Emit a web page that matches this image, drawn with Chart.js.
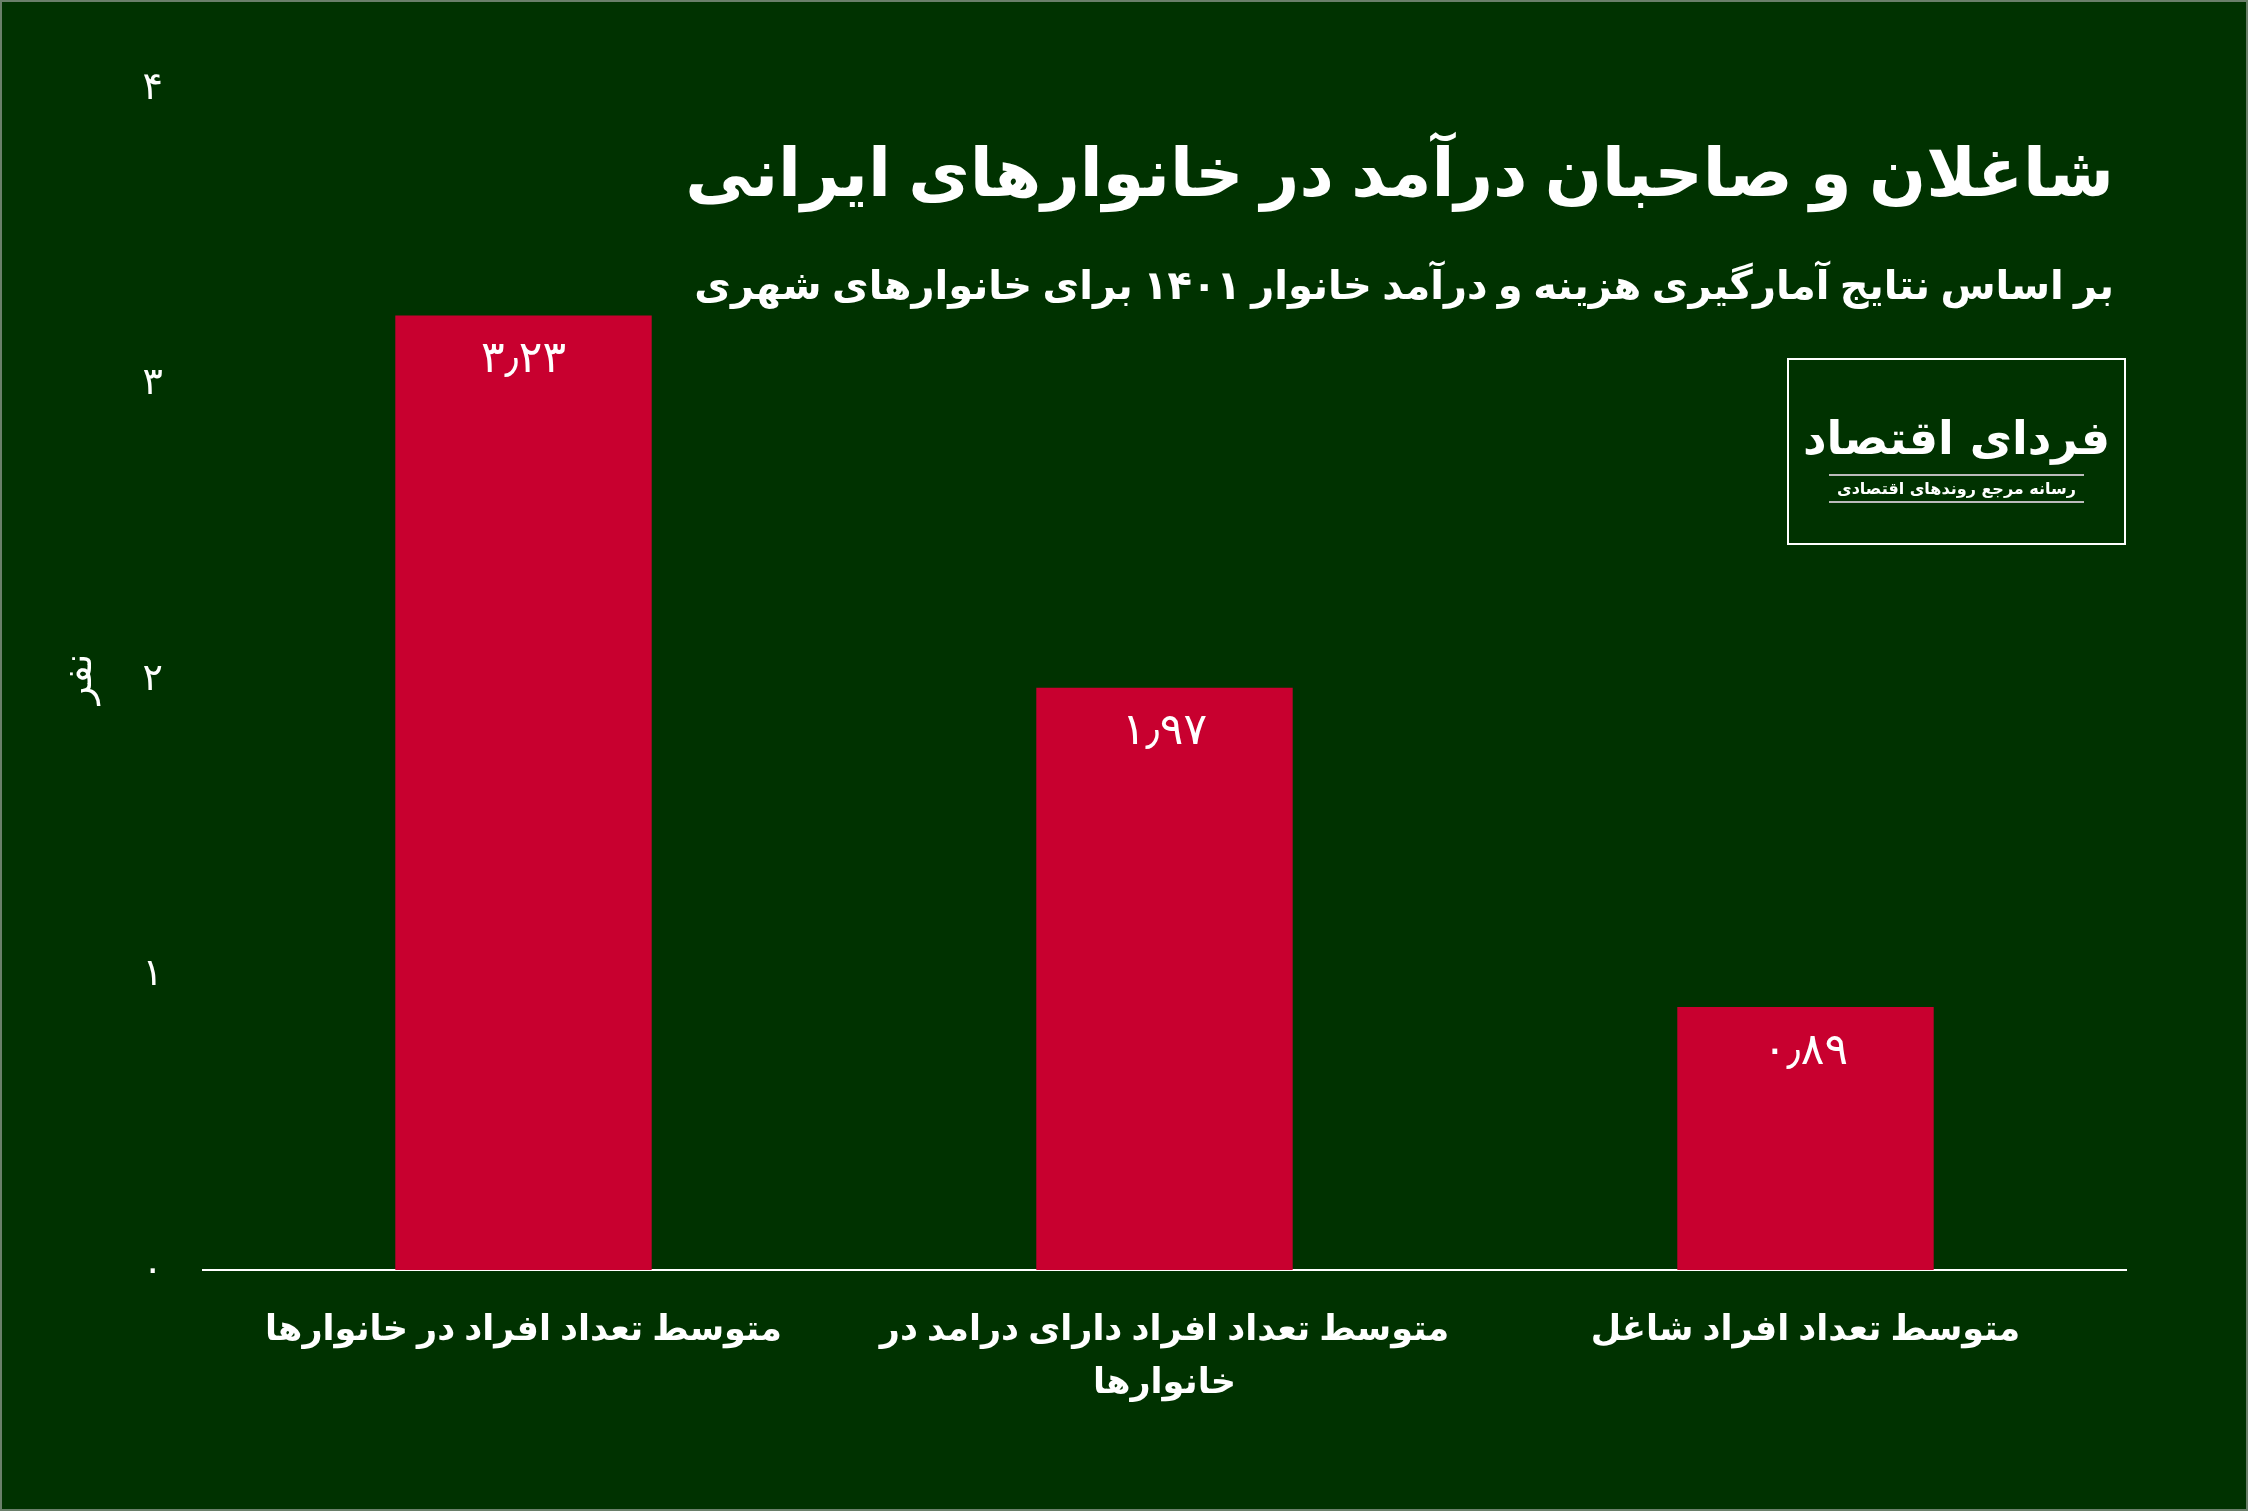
<!DOCTYPE html>
<html lang="fa">
<head>
<meta charset="UTF-8">
<title>شاغلان و صاحبان درآمد</title>
<style>
    html, body { margin: 0; padding: 0; background: #003200; }
    #wrap { position: relative; width: 2248px; height: 1511px; background: #003200; box-sizing: border-box; border: 2px solid #6a7f6a; }
    #chart { position: absolute; left: 0; top: 0; }
    .title { position: absolute; right: 132px; top: 122px; color: #fff; font: bold 67px "Noto Sans", "DejaVu Sans", sans-serif; direction: rtl; white-space: nowrap; }
    .sub { position: absolute; right: 132px; top: 254px; color: #fff; font: bold 40px "Noto Sans", "DejaVu Sans", sans-serif; direction: rtl; white-space: nowrap; }
    .logo { position: absolute; left: 1785px; top: 356px; width: 339px; height: 187px; border: 2px solid #fff; box-sizing: border-box; color: #fff; text-align: center; direction: rtl; white-space: nowrap; }
    .logo .big { font: bold 46px "DejaVu Sans", sans-serif; margin-top: 48px; line-height: 60px; }
    .logo .small { font: bold 16px "DejaVu Sans", sans-serif; border-top: 2px solid #bbb; border-bottom: 2px solid #bbb; margin: 6px 40px 0 40px; padding: 3px 0; }
</style>
<script src="https://cdn.jsdelivr.net/npm/chart.js"></script>
</head>
<body>
<div id="wrap">
    <canvas id="chart" width="2248" height="1511"></canvas>
    <div class="title">شاغلان و صاحبان درآمد در خانوارهای ایرانی</div>
    <div class="sub">بر اساس نتایج آمارگیری هزینه و درآمد خانوار ۱۴۰۱ برای خانوارهای شهری</div>
    <div class="logo"><div class="big">فردای اقتصاد</div><div class="small">رسانه مرجع روندهای اقتصادی</div></div>
</div>
<script>
    const categories = [
        'متوسط تعداد افراد در خانوارها',
        ['متوسط تعداد افراد دارای درامد در', 'خانوارها'],
        'متوسط تعداد افراد شاغل'
    ];
    const values = [3.23, 1.97, 0.89];
    const yTitle = 'نفر';
    const font = '"Noto Sans", "DejaVu Sans", sans-serif';

    // ارقام فارسی
    function fa(n) {
        return String(n).replace(/\./g, '٫').replace(/\d/g, d => '۰۱۲۳۴۵۶۷۸۹'[d]);
    }

    const valueLabels = {
        id: 'valueLabels',
        afterDatasetsDraw(chart) {
            const ctx = chart.ctx;
            const meta = chart.getDatasetMeta(0);
            ctx.save();
            ctx.fillStyle = '#fff';
            ctx.font = '44px ' + font;
            ctx.textAlign = 'center';
            ctx.textBaseline = 'middle';
            meta.data.forEach((bar, i) => {
                ctx.fillText(fa(values[i].toFixed(2)), bar.x, bar.y + 44);
            });
            ctx.restore();
        }
    };

    new Chart(document.getElementById('chart'), {
        type: 'bar',
        data: {
            labels: categories,
            datasets: [{ data: values, backgroundColor: '#c8002f', barPercentage: 0.4, categoryPercentage: 1 }]
        },
        options: {
            responsive: false,
            animation: false,
            layout: { padding: { left: 55, right: 124, top: 86, bottom: 70 } },
            plugins: { legend: { display: false }, tooltip: { enabled: false } },
            scales: {
                x: {
                    grid: { display: false, drawTicks: false },
                    border: { color: '#fff', width: 2 },
                    ticks: { color: '#fff', font: { family: font, size: 35, weight: 'bold', lineHeight: 1.5 }, padding: 34, maxRotation: 0, autoSkip: false }
                },
                y: {
                    min: 0, max: 4,
                    afterFit: s => { s.width = 146; },
                    grid: { display: false, drawTicks: false },
                    border: { display: false },
                    ticks: { stepSize: 1, color: '#fff', font: { family: font, size: 38 }, padding: 40, callback: v => fa(v) },
                    title: { display: true, text: yTitle, color: '#fff', font: { family: font, size: 38 }, padding: 0 }
                }
            }
        },
        plugins: [valueLabels]
    });
</script>
</body>
</html>
